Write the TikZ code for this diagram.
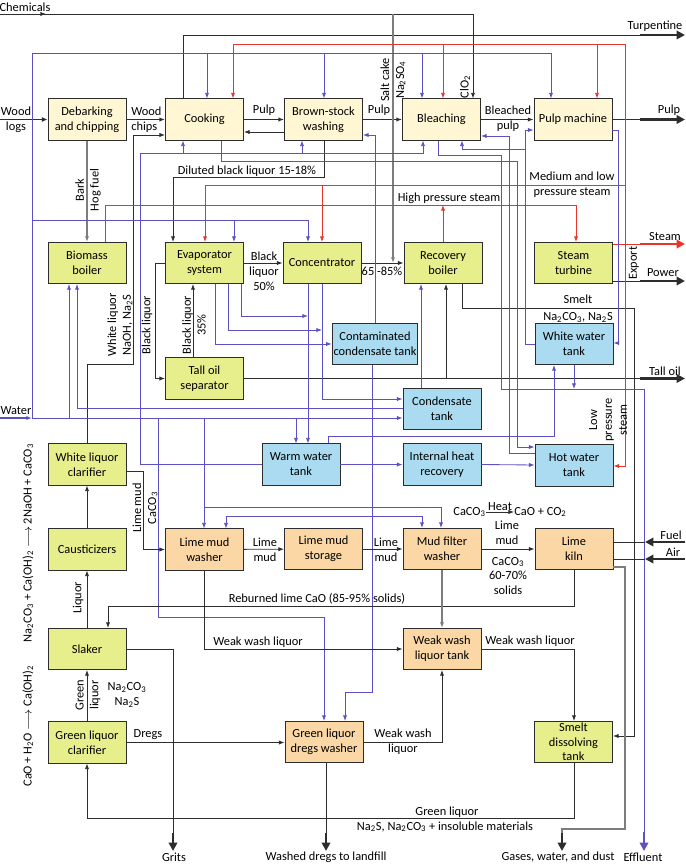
\documentclass[tikz,border=0pt]{standalone}
\usepackage{amsmath}
\usepackage{xcolor}
\usepackage{fontspec}
\setmainfont{Carlito}
\usetikzlibrary{arrows.meta}

\definecolor{pulpfill}{RGB}{255,247,212}
\definecolor{limefill}{RGB}{231,239,140}
\definecolor{tankfill}{RGB}{170,219,240}
\definecolor{mudfill}{RGB}{250,215,165}
\definecolor{waterline}{RGB}{92,80,196}
\definecolor{steamline}{RGB}{232,52,42}
\definecolor{procline}{RGB}{45,45,45}
\definecolor{greyline}{RGB}{125,125,125}

\begin{document}
\begin{tikzpicture}[x=0.025cm, y=-0.025cm, font=\fontsize{8.8}{10.6}\selectfont]

            \tikzset{
                unit/.style = {rectangle, minimum width=1.95cm, minimum height=1.03cm, inner sep=1pt, align=center, draw=procline, line width=0.6pt},
                pulpbox/.style = {unit, fill=pulpfill},
                limebox/.style = {unit, fill=limefill},
                tankbox/.style = {unit, fill=tankfill},
                mudbox/.style = {unit, fill=mudfill},
                lbl/.style = {align=center, inner sep=0pt},
                flow/.style = {draw=procline, line width=0.6pt},
                arrow/.style = {flow, ->, >={Latex[length=4pt,width=3pt]}},
                grey/.style = {draw=greyline, line width=1pt, >={Latex[length=4pt,width=3pt]}},
                wline/.style = {draw=waterline, line width=0.6pt, >={Latex[length=4pt,width=3pt]}},
                sline/.style = {draw=steamline, line width=0.6pt, >={Latex[length=4pt,width=3pt]}},
                exportarrow/.style = {line width=1.8pt, -{Triangle[length=6pt,width=6pt]}}
            }

            \useasboundingbox (0,0) rectangle (685,865);

            % process units
            \node (debark) [pulpbox] at (87,119.5) {Debarking\\and chipping};
            \node (cook) [pulpbox] at (204.5,119.5) {Cooking};
            \node (bsw) [pulpbox] at (323.5,119.5) {Brown-stock\\washing};
            \node (bleach) [pulpbox] at (441.5,119.5) {Bleaching};
            \node (pulpm) [pulpbox] at (573,119.5) {Pulp machine};

            \node (biomass) [limebox] at (87,263) {Biomass\\boiler};
            \node (evap) [limebox] at (204.5,263) {Evaporator\\system};
            \node (conc) [limebox] at (322,263) {Concentrator};
            \node (recov) [limebox] at (443,263) {Recovery\\boiler};
            \node (turbine) [limebox] at (573.5,263) {Steam\\turbine};
            \node (contam) [tankbox, minimum width=2.1cm] at (375,344) {Contaminated\\condensate tank};
            \node (tallsep) [limebox] at (204.5,378.5) {Tall oil\\separator};
            \node (wwt) [tankbox] at (574,344) {White water\\tank};
            \node (condt) [tankbox] at (442,409) {Condensate\\tank};
            \node (warm) [tankbox] at (301,464.5) {Warm water\\tank};
            \node (ihr) [tankbox] at (442,464.5) {Internal heat\\recovery};
            \node (hot) [tankbox] at (574,465.5) {Hot water\\tank};

            \node (wlc) [limebox] at (87,464.5) {White liquor\\clarifier};
            \node (caust) [limebox] at (87,549.5) {Causticizers};
            \node (lmw) [mudbox] at (204.5,549.5) {Lime mud\\washer};
            \node (lms) [mudbox] at (323.5,549) {Lime mud\\storage};
            \node (mfw) [mudbox] at (442,549) {Mud filter\\washer};
            \node (kiln) [mudbox] at (574,549) {Lime\\kiln};
            \node (slaker) [limebox] at (87,649) {Slaker};
            \node (wwlt) [mudbox] at (442,649) {Weak wash\\liquor tank};
            \node (glc) [limebox] at (87,742.5) {Green liquor\\clarifier};
            \node (gldw) [mudbox] at (324,742) {Green liquor\\dregs washer};
            \node (sdt) [limebox, inner sep=0pt, font=\fontsize{8.8}{10.2}\selectfont] at (573.5,742) {Smelt\\dissolving\\tank};

            % free ends
            \coordinate (chemin) at (0,14);
            \coordinate (logsin) at (0,119.5);
            \coordinate (waterin) at (0,418);
            \coordinate (turpout) at (685,35);
            \coordinate (pulpout) at (685,119.5);
            \coordinate (steamout) at (685,244);
            \coordinate (powerout) at (685,281);
            \coordinate (talloilout) at (685,378.5);
            \coordinate (fuelin) at (685,542);
            \coordinate (airin) at (685,559);
            \coordinate (gritsout) at (173,851);
            \coordinate (dregsout) at (326,851);
            \coordinate (gasout) at (562,851);
            \coordinate (effout) at (644,851);

            % fibre line
            \draw [flow, line width=1.2pt, -{Latex[length=4pt,width=3.5pt]}] (logsin) -- (debark.west);
            \draw [arrow, line width=1pt] (debark) -- (cook);
            \draw [arrow, line width=1pt] (cook) -- (bsw);
            \draw [arrow] (bsw.west |- 0,132) -- (cook.east |- 0,132);
            \draw [arrow, line width=1pt] (bsw) -- (bleach);
            \draw [arrow, line width=1pt] (bleach) -- (pulpm);
            \draw [flow, line width=1pt] (pulpm.east) -- (640,119.5);
            \draw [exportarrow, procline] (640,119.5) -- (pulpout);
            \draw [flow] (cook.north -| 183,0) |- (640,35);
            \draw [exportarrow, procline] (640,35) -- (turpout);
            \draw [arrow] (chemin) -| (bleach.north -| 473,0);
            \draw [arrow] (chemin) -- (46,14);
            \draw [grey, ->] (393,14) -- (conc.east -| 393,0);
            \draw [grey, ->] (debark) -- (biomass);

            % black liquor and recovery
            \draw [arrow] (wlc.north) |- (133,364) |- (cook.west |- 0,135);
            \draw [arrow] (bsw.south -| 324,0) |- (173,177) -- (evap.north -| 173,0);
            \draw [arrow] (evap.west) -- (155,263) |- (tallsep.west);
            \draw [arrow] (tallsep.north -| 193,0) -- (evap.south -| 193,0);
            \draw [arrow] (evap) -- (conc);
            \draw [arrow] (conc) -- (recov);
            \draw [flow] (tallsep.east) -- (640,378.5);
            \draw [exportarrow, procline] (640,378.5) -- (talloilout);
            \draw [arrow] (446,378.5) -- (recov.south -| 446,0);
            \draw [arrow] (recov.south -| 462,0) |- (634,308) |- (sdt.east |- 0,736);
            \draw [flow] (turbine.east |- 0,281) -- (640,281);
            \draw [exportarrow, procline] (640,281) -- (powerout);

            % steam
            \draw [sline, ->] (biomass.north -| 105,0) |- (576,205) -- (turbine.north -| 576,0);
            \draw [sline, ->] (recov.north -| 443,0) -- (443,205);
            \draw [sline, ->] (625,185) -| (evap.north -| 205,0);
            \draw [sline, ->] (322,185) -- (conc.north -| 322,0);
            \draw [sline, <->] (cook.north -| 233,0) |- (625,44) |- (hot.east |- 0,466);
            \draw [sline, ->] (443,44) -- (bleach.north -| 443,0);
            \draw [sline, ->] (597,44) -- (pulpm.north -| 597,0);
            \draw [sline] (turbine.east |- 0,244) -- (640,244);
            \draw [exportarrow, steamline] (640,244) -- (steamout);

            % water
            \draw [wline, line width=1pt, ->] (waterin) -- (32,418);
            \draw [wline, ->] (32,418) -- (condt.west |- 0,418);
            \draw [wline, ->] (32,418) |- (551,53) -- (pulpm.north -| 551,0);
            \draw [wline, ->] (207,53) -- (cook.north -| 207,0);
            \draw [wline, ->] (324,53) -- (bsw.north -| 324,0);
            \draw [wline, ->] (422,53) -- (bleach.north -| 422,0);
            \draw [wline, ->] (32,220) -| (conc.north -| 308,0);
            \draw [wline, ->] (234,220) -- (evap.north -| 234,0);
            \draw [wline, ->] (69,418) -- (biomass.south -| 69,0);
            \draw [wline, ->] (condt.west |- 0,408) -| (biomass.south -| 77,0);
            \draw [wline, ->] (158,418) |- (324,617) -- (gldw.north -| 324,0);
            \draw [wline, ->] (204,418) -- (lmw.north -| 204,0);
            \draw [wline, ->] (204,507) -| (mfw.north -| 441,0);
            \draw [wline, <->] (lmw.north -| 226,0) |- (422,516) -- (mfw.north -| 422,0);
            \draw [wline, ->] (296,418) -- (warm.north -| 296,0);
            \draw [wline, ->] (conc.south -| 308,0) -- (warm.north -| 308,0);
            \draw [wline, ->] (conc.south -| 322,0) |- (condt.west |- 0,399);
            \draw [wline, ->] (evap.south -| 241,0) |- (308,316);
            \draw [wline, ->] (evap.south -| 228,0) |- (322,330);
            \draw [wline, ->] (evap.south -| 215,0) |- (contam.west);
            \draw [wline, ->] (contam.north) |- (bsw.east |- 0,135);
            \draw [wline, ->] (contam.south -| 372,0) |- (345,692) -- (gldw.north -| 345,0);
            \draw [wline, ->] (condt.north -| 421,0) -- (recov.south -| 421,0);
            \draw [wline, ->] (warm.west) -| (140,153) -| (cook.south -| 183,0);
            \draw [wline, ->] (183,153) -| (bsw.south -| 302,0);
            \draw [wline, ->] (302,153) -| (bleach.south -| 423,0);
            \draw [wline, ->] (cook.south -| 221,0) |- (517,161) |- (hot.west |- 0,447);
            \draw [wline] (bleach.south -| 438,0) |- (501,155) |- (644,389) -- (644,832);
            \draw [wline, line width=1.8pt, -{Triangle[length=6pt,width=6pt]}] (644,832) -- (effout);
            \draw [wline, ->] (wwt.south -| 574,0) -- (574,389);
            \draw [wline, ->] (pulpm.east |- 0,130) -| (618,343) -- (wwt.east |- 0,343);
            \draw [wline, ->] (wwt.west) -| (525,130) -- (pulpm.west |- 0,130);
            \draw [wline, ->] (525,149) -| (bleach.south -| 462,0);
            \draw [wline, ->] (hot.west |- 0,453) -| (509,136) -- (bleach.east |- 0,136);
            \draw [wline, ->] (warm.north -| 328,0) |- (554,436) -- (wwt.south -| 554,0);
            \draw [wline, ->] (warm.east) -- (ihr.west);
            \draw [wline, ->] (ihr.east) -- (hot.west |- 0,465);

            % causticizing and lime cycle
            \draw [arrow] (glc) -- (slaker);
            \draw [arrow] (slaker) -- (caust);
            \draw [arrow] (caust) -- (wlc);
            \draw [arrow] (wlc.east |- 0,471) -| (143,549.5) -- (lmw.west);
            \draw [arrow] (lmw) -- (lms);
            \draw [arrow] (lms) -- (mfw);
            \draw [arrow] (mfw) -- (kiln);
            \draw [arrow] (kiln.south) |- (108,606) -- (slaker.north -| 108,0);
            \draw [flow] (kiln.east |- 0,542) -- (645,542);
            \draw [exportarrow, procline] (fuelin) -- (645,542);
            \draw [flow] (kiln.east |- 0,559) -- (645,559);
            \draw [exportarrow, procline] (airin) -- (645,559);
            \draw [grey] (kiln.east |- 0,567) -| (625,829) -| (562,835);
            \draw [exportarrow, procline] (562,833) -- (gasout);
            \draw [grey, ->] (mfw) -- (wwlt);
            \draw [arrow] (lmw.south) |- (wwlt.west);
            \draw [arrow] (wwlt.east) -| (sdt.north -| 574,0);
            \draw [flow] (slaker.east) -| (173,833);
            \draw [exportarrow, procline] (173,833) -- (gritsout);
            \draw [arrow] (glc.east) -- (gldw.west |- 0,742.5);
            \draw [arrow] (gldw.east) -| (wwlt.south);
            \draw [arrow] (sdt.south -| 574,0) |- (87,818) -- (glc.south);
            \draw [flow] (gldw.south -| 326,0) -- (326,833);
            \draw [exportarrow, procline] (326,833) -- (dregsout);

            % labels
            \node (lchem) [lbl] at (25,7) {Chemicals};
            \node (lturp) [lbl] at (655,26) {Turpentine};
            \node (llogs) [lbl] at (16,120) {Wood\\logs};
            \node (lchips) [lbl, align=left, anchor=west] at (131,120) {Wood\\chips};
            \node (lpulp1) [lbl] at (264,110) {Pulp};
            \node (lpulp2) [lbl] at (379,110) {Pulp};
            \node (lbpulp) [lbl] at (508,119) {Bleached\\pulp};
            \node (lpulp3) [lbl] at (669,110) {Pulp};
            \node (lclo) [lbl, rotate=90] at (465,87) {ClO\textsubscript{2}};
            \node (lsalt) [lbl, rotate=90] at (393,80) {Salt cake\\Na\textsubscript{2}SO\textsubscript{4}};
            \node (lbark) [lbl, rotate=90] at (88,190) {Bark\\Hog fuel};
            \node (ldil) [lbl] at (247,171) {Diluted black liquor 15-18\%};
            \node (lhps) [lbl] at (449,198) {High pressure steam};
            \node (lmlps) [lbl] at (572,185) {Medium and low\\pressure steam};
            \node (lwl) [lbl, rotate=90] at (120,325) {White liquor\\NaOH, Na\textsubscript{2}S};
            \node (lbl1) [lbl, rotate=90] at (147,325) {Black liquor};
            \node (lbl2) [lbl, rotate=90] at (194,325) {Black liquor\\35\%};
            \node (lbl3) [lbl] at (264,271) {Black\\liquor\\50\%};
            \node (lbl4) [lbl] at (382,271) {65 -85\%};
            \node (lsteam) [lbl] at (665,237) {Steam};
            \node (lpower) [lbl] at (663,273) {Power};
            \node (lexport) [lbl, rotate=90] at (634,263) {Export};
            \node (ltall) [lbl] at (665,371) {Tall oil};
            \node (lsmelt) [lbl] at (578,308.5) {Smelt\\[2pt]Na\textsubscript{2}CO\textsubscript{3}, Na\textsubscript{2}S};
            \node (llps) [lbl, rotate=90] at (608,420) {Low\\pressure\\steam};
            \node (lwater) [lbl] at (16,411) {Water};
            \node (lmud1) [lbl, rotate=90] at (145,508) {Lime mud\\CaCO\textsubscript{3}};
            \node (lliq) [lbl, rotate=90] at (78,598) {Liquor};
            \node (lreb) [lbl] at (317,599) {Reburned lime CaO (85-95\% solids)};
            \node (lmud2) [lbl] at (265,550) {Lime\\mud};
            \node (lmud3) [lbl] at (386,550) {Lime\\mud};
            \node (lcaco1) [lbl, anchor=east] at (486,512) {CaCO\textsubscript{3}};
            \node (lcao) [lbl, anchor=west] at (514,512) {CaO + CO\textsubscript{2}};
            \draw [arrow, line width=0.5pt] (lcaco1.east) -- (lcao.west) node [midway, above=0.5pt, lbl] {Heat};
            \node (lmud4) [lbl] at (507,533) {Lime\\mud};
            \node (lcaco) [lbl] at (508,576) {CaCO\textsubscript{3}\\60-70\%\\solids};
            \node (lfuel) [lbl] at (671,535) {Fuel};
            \node (lair) [lbl] at (673,552) {Air};
            \node (lwwl1) [lbl] at (258,642) {Weak wash liquor};
            \node (lwwl2) [lbl] at (530,641) {Weak wash liquor};
            \node (lgl) [lbl, rotate=90] at (88,695) {Green\\liquor};
            \node (lna) [lbl] at (127,695) {Na\textsubscript{2}CO\textsubscript{3}\\Na\textsubscript{2}S};
            \node (ldregs) [lbl] at (148,735) {Dregs};
            \node (lwwl3) [lbl] at (403,742) {Weak wash\\liquor};
            \node (lgreen) [lbl] at (447,812) {Green liquor};
            \node (lins) [lbl] at (445,827) {Na\textsubscript{2}S, Na\textsubscript{2}CO\textsubscript{3} + insoluble materials};
            \node (lgrits) [lbl] at (174,857) {Grits};
            \node (llandfill) [lbl] at (326,857) {Washed dregs to landfill};
            \node (lgas) [lbl] at (558,857) {Gases, water, and dust};
            \node (leff) [lbl] at (643,857) {Effluent};
            \node (leq1) [lbl, rotate=90] at (28,543) {Na\textsubscript{2}CO\textsubscript{3} + Ca(OH)\textsubscript{2} $\longrightarrow$ 2NaOH + CaCO\textsubscript{3}};
            \node (leq2) [lbl, rotate=90] at (28,726) {CaO + H\textsubscript{2}O $\longrightarrow$ Ca(OH)\textsubscript{2}};
        \end{tikzpicture}
\end{document}
